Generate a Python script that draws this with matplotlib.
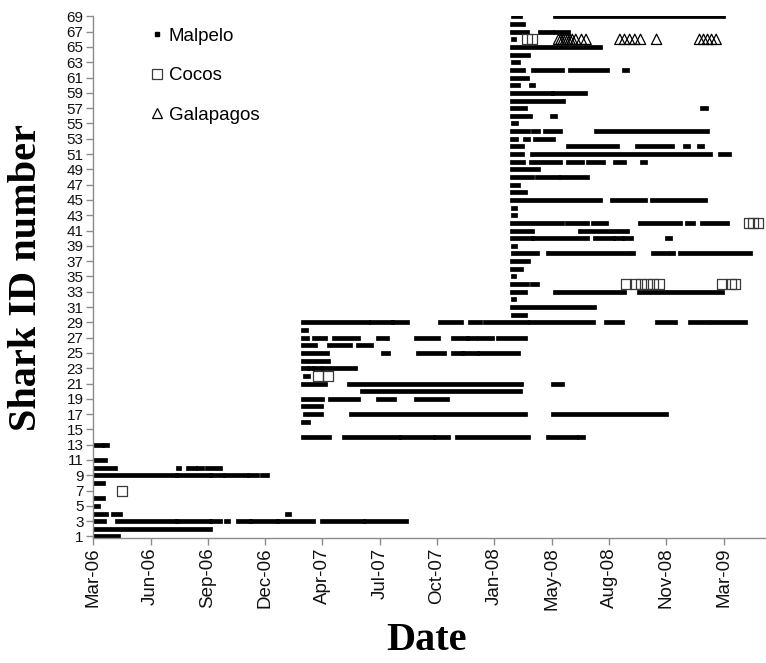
import matplotlib
matplotlib.use('Agg')
import matplotlib.pyplot as plt
import matplotlib.dates as mdates
from matplotlib.lines import Line2D
import numpy as np
import pandas as pd

plt.rcParams['font.family'] = ['Liberation Sans', 'DejaVu Sans']

STUDY_START = pd.Timestamp('2006-03-01')

# Malpelo detections as (shark id, first day, last day), days counted from STUDY_START
runs_2006 = [
    (1, 0, 43), (2, 0, 204),
    (3, 1, 19), (3, 41, 144), (3, 146, 204), (3, 205, 221), (3, 232, 235),
    (3, 252, 273), (3, 275, 320), (3, 322, 383), (3, 399, 471), (3, 474, 546),
    (4, 1, 22), (4, 34, 47), (4, 338, 341),
    (5, 0, 8), (6, 0, 17), (8, 0, 17),
    (9, 0, 144), (9, 146, 204), (9, 205, 226), (9, 230, 268), (9, 272, 286), (9, 294, 303),
    (10, 1, 38), (10, 147, 149), (10, 165, 177), (10, 183, 190), (10, 198, 221),
    (11, 1, 20), (13, 0, 15), (13, 19, 24),
]

runs_2007 = [
    (14, 366, 411), (14, 437, 533), (14, 537, 593), (14, 596, 619), (14, 634, 759),
    (14, 793, 842), (14, 847, 855),
    (16, 366, 374),
    (17, 369, 397), (17, 450, 753), (17, 802, 999),
    (18, 366, 397),
    (19, 366, 399), (19, 413, 462), (19, 497, 525), (19, 563, 617),
    (20, 469, 745),
    (21, 366, 404), (21, 446, 746), (21, 802, 818),
    (22, 369, 374),
    (23, 366, 373), (23, 377, 382), (23, 385, 397), (23, 401, 457),
    (24, 366, 410),
    (25, 366, 408), (25, 506, 514), (25, 567, 612), (25, 628, 643), (25, 645, 669), (25, 673, 741),
    (26, 366, 387), (26, 411, 448), (26, 462, 485),
    (27, 366, 373), (27, 385, 404), (27, 420, 462), (27, 497, 513), (27, 563, 601),
    (27, 628, 652), (27, 654, 666), (27, 673, 696), (27, 706, 753),
    (28, 366, 371),
    (29, 366, 479), (29, 485, 521), (29, 523, 547), (29, 605, 641), (29, 657, 675),
    (29, 683, 757), (29, 762, 872), (29, 895, 922), (29, 983, 1015), (29, 1041, 1073),
    (29, 1080, 1137),
]

runs_2008 = [
    (30, 732, 753), (31, 731, 874), (32, 732, 734),
    (33, 731, 753), (33, 806, 927), (33, 952, 1097),
    (34, 731, 757), (34, 765, 774),
    (35, 732, 734), (36, 731, 746), (37, 731, 759),
    (38, 732, 774), (38, 793, 933), (38, 940, 942), (38, 976, 1001), (38, 1009, 1011),
    (38, 1024, 1146),
    (39, 732, 736),
    (40, 731, 765), (40, 767, 862), (40, 876, 907), (40, 910, 922), (40, 926, 938),
    (40, 1001, 1006),
    (41, 731, 765), (41, 850, 931),
    (42, 731, 818), (42, 826, 862), (42, 872, 895), (42, 954, 1024), (42, 1036, 1046),
    (42, 1063, 1106),
    (43, 732, 736), (44, 732, 736),
    (45, 731, 884), (45, 905, 962), (45, 975, 1067),
    (46, 731, 753), (47, 731, 741),
    (48, 731, 765), (48, 774, 811), (48, 816, 862),
    (49, 731, 776),
    (50, 731, 750), (50, 764, 814), (50, 828, 853), (50, 863, 889), (50, 910, 927),
    (50, 957, 962),
    (51, 731, 748), (51, 765, 1076), (51, 1094, 1110),
    (52, 731, 748), (52, 828, 914), (52, 949, 1010), (52, 1032, 1038), (52, 1057, 1063),
    (53, 731, 738), (53, 753, 759), (53, 770, 802),
    (54, 731, 759), (54, 767, 776), (54, 788, 814), (54, 877, 1071),
    (55, 732, 738), (56, 731, 762), (56, 800, 806),
    (57, 731, 753), (57, 1063, 1069),
    (58, 731, 820), (59, 731, 800), (59, 802, 858),
    (60, 731, 741), (60, 764, 767), (61, 731, 757),
    (62, 731, 750), (62, 767, 818), (62, 832, 896), (62, 926, 931),
    (63, 732, 741), (64, 731, 759), (65, 731, 884), (66, 732, 734),
    (67, 731, 757), (67, 780, 800), (67, 806, 828),
    (68, 731, 750), (69, 732, 745), (69, 806, 1099),
]

# Cocos detections
cocos_shark = [7, 22, 22, 34, 34, 34, 34, 34, 34, 34, 34, 34, 42, 42, 42, 66, 66]
cocos_day = [50, 392, 410, 929, 945, 955, 966, 976, 987, 1097, 1113, 1120,
             1144, 1151, 1160, 757, 766]

# Galapagos detections (all from shark 66)
galapagos_shark = 66
galapagos_day = [812, 816, 820, 824, 828, 832, 836, 842, 852, 860,
                 919, 927, 936, 945, 955, 983,
                 1058, 1065, 1072, 1079, 1087]

tick_days = [0, 100, 200, 300, 400, 500, 600, 700, 800, 900, 1000, 1100]


def to_dates(days):
    return mdates.date2num((STUDY_START + pd.to_timedelta(np.asarray(days), unit='D')).to_pydatetime())


runs = pd.DataFrame(runs_2006 + runs_2007 + runs_2008, columns=['shark', 'first', 'last'])

fig = plt.figure(figsize=(7.66, 6.63), dpi=100)
ax = fig.add_axes([93.3 / 766, 125 / 663, 672.7 / 766, 522 / 663])

ax.hlines(runs['shark'], to_dates(runs['first']), to_dates(runs['last']),
          color='black', linewidth=3.4, capstyle='projecting')
ax.scatter(to_dates(cocos_day), cocos_shark, marker='s', s=52,
           facecolors='none', edgecolors='#3a3a3a', linewidths=0.9, zorder=3)
ax.scatter(to_dates(galapagos_day), [galapagos_shark] * len(galapagos_day), marker='^', s=55,
           facecolors='none', edgecolors='black', linewidths=0.9, zorder=3)

ax.set_xlim(to_dates([0])[0], to_dates([1174])[0])
ax.set_ylim(0.8, 69.05)

ax.set_xticks(to_dates(tick_days))
ax.xaxis.set_major_formatter(mdates.DateFormatter('%b-%y'))
ax.set_yticks(np.arange(1, 70, 2))

for side in ['top', 'right']:
    ax.spines[side].set_visible(False)
for side in ['left', 'bottom']:
    ax.spines[side].set_color('#8c8c8c')
    ax.spines[side].set_linewidth(1.0)
ax.tick_params(axis='both', direction='out', color='#8c8c8c', length=5, width=1.0)
ax.tick_params(axis='x', labelsize=13.5, labelrotation=90, pad=2, labelcolor='#111111')
ax.tick_params(axis='y', labelsize=11, pad=2, labelcolor='#111111')

ax.set_xlabel('Date', family='Liberation Serif', fontweight='bold', fontsize=29, va='center')
ax.set_ylabel('Shark ID number', family='Liberation Serif', fontweight='bold', fontsize=29,
              va='center')
ax.xaxis.set_label_coords(0.495, -0.196)
ax.yaxis.set_label_coords(-0.099, 0.498)

handles = [
    Line2D([], [], marker='s', ls='none', color='black', markersize=3),
    Line2D([], [], marker='s', ls='none', markerfacecolor='white', markeredgecolor='#3a3a3a',
           markersize=7, markeredgewidth=0.9),
    Line2D([], [], marker='^', ls='none', markerfacecolor='white', markeredgecolor='black',
           markersize=7, markeredgewidth=0.9),
]
ax.legend(handles, ['Malpelo', 'Cocos', 'Galapagos'], loc='upper left',
          bbox_to_anchor=(0.087, 0.978), frameon=False, fontsize=13.5,
          labelspacing=1.2, handlelength=0.6, handletextpad=0.3,
          borderaxespad=0, borderpad=0)

fig.savefig('out.png', dpi=100)
